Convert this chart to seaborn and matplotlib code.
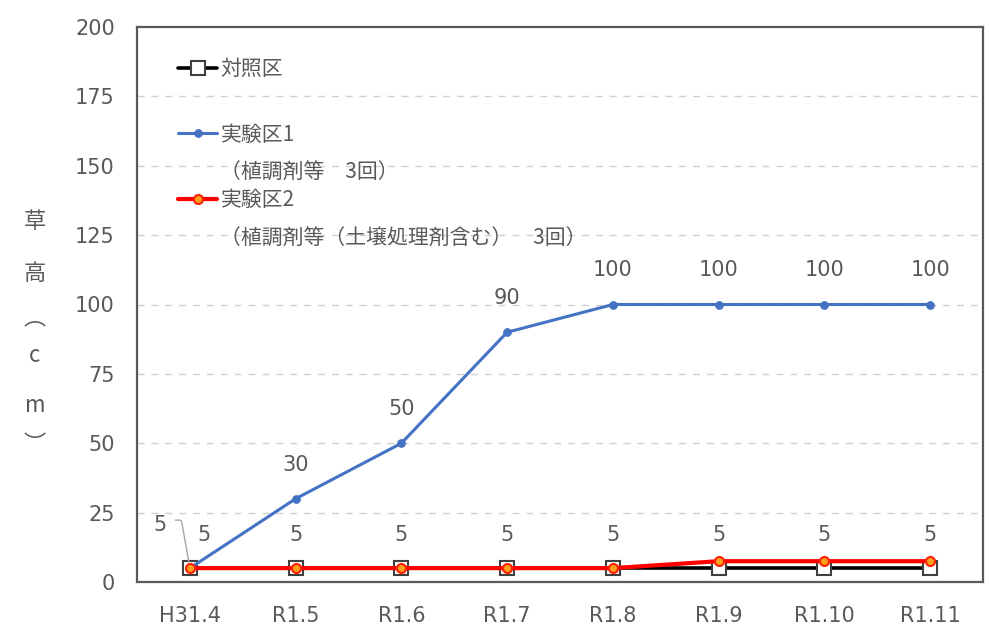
import numpy as np
import pandas as pd
import matplotlib
matplotlib.use("Agg")
import matplotlib.pyplot as plt
import seaborn as sns

# Survey months and plant heights (cm)
months = ["H31.4", "R1.5", "R1.6", "R1.7", "R1.8", "R1.9", "R1.10", "R1.11"]
control = [5, 5, 5, 5, 5, 5, 5, 5]
plot1 = [5, 30, 50, 90, 100, 100, 100, 100]
plot2 = [5, 5, 5, 5, 5, 7.5, 7.5, 7.5]
y_ticks = [0, 25, 50, 75, 100, 125, 150, 175, 200]

series_names = ["対照区", "実験区1", "実験区2"]
series_notes = ["（植調剤等　3回）", "（植調剤等（土壌処理剤含む）　3回）"]
y_label_chars = ["草", "高", "︵", "c", "m", "︶"]

sns.set_theme(style="white")
plt.rcParams["font.family"] = ["DejaVu Sans", "Noto Sans CJK JP"]
CJK = ["Noto Sans CJK JP", "DejaVu Sans"]
GRAY = "#595959"
W, H = 989, 632

df = pd.DataFrame({
    "pos": np.arange(len(months)),
    "month": months,
    "control": control,
    "plot1": plot1,
    "plot2": plot2,
})

fig = plt.figure(figsize=(W / 100, H / 100), dpi=100)
ax = fig.add_axes([137 / W, 1 - 582 / H, (983 - 137) / W, (582 - 27) / H])

sns.lineplot(data=df, x="pos", y="control", ax=ax, color="black", lw=2.6,
             marker="s", markersize=10.5, markerfacecolor="white",
             markeredgecolor="#404040", markeredgewidth=1.5,
             label=series_names[0], legend=False, zorder=3)
sns.lineplot(data=df, x="pos", y="plot1", ax=ax, color="#4472C4", lw=2.2,
             marker="o", markersize=5.5, markerfacecolor="#4472C4",
             markeredgecolor="#4472C4", label=series_names[1], legend=False,
             zorder=4)
sns.lineplot(data=df, x="pos", y="plot2", ax=ax, color="#FF0000", lw=3.0,
             marker="o", markersize=6.5, markerfacecolor="#FFA020",
             markeredgecolor="#FF2000", markeredgewidth=1.5,
             label=series_names[2], legend=False, zorder=5)

ax.set_xlim(-0.5, len(months) - 0.5)
ax.set_ylim(0, 200)
ax.set_xticks(df["pos"])
ax.set_xticklabels(months)
ax.set_yticks(y_ticks)
ax.set_xlabel("")
ax.set_ylabel("")
ax.tick_params(axis="both", length=0, labelsize=15, labelcolor=GRAY)
ax.tick_params(axis="y", pad=16)
ax.tick_params(axis="x", pad=17)

for y in y_ticks[1:-1]:
    ax.axhline(y, color="#d0d0d0", lw=1.0, ls=(0, (5, 5)), zorder=1)
for s in ax.spines.values():
    s.set_visible(True)
    s.set_color(GRAY)
    s.set_linewidth(1.6)

# Value labels (the first control label sits right of the rising blue line)
for i, v in enumerate(control):
    dx = 14 if i == 0 else 0
    ax.annotate(f"{v:g}", (i, v), xytext=(dx, 33), textcoords="offset pixels",
                ha="center", va="center", fontsize=15, color=GRAY)
for i, v in enumerate(plot1):
    if i == 0:
        ax.annotate(f"{v:g}", (i, v), xytext=(-30, 43), textcoords="offset pixels",
                    ha="center", va="center", fontsize=15, color=GRAY,
                    arrowprops=dict(arrowstyle="-", color="#a6a6a6", lw=1.0,
                                    shrinkA=4, shrinkB=4, relpos=(1.0, 0.75),
                                    connectionstyle="angle,angleA=0,angleB=100,rad=2"))
    else:
        ax.annotate(f"{v:g}", (i, v), xytext=(0, 34), textcoords="offset pixels",
                    ha="center", va="center", fontsize=15, color=GRAY)

# Legend with notes under the treated plots
leg = ax.legend(loc="upper left", bbox_to_anchor=(0.026, 0.978), frameon=False,
                handlelength=1.9, handletextpad=0.15, labelspacing=2.1,
                prop={"family": CJK, "size": 15})
for t in leg.get_texts():
    t.set_color(GRAY)

fig.canvas.draw()
for t, note in zip(leg.get_texts()[1:], series_notes):
    bb = t.get_window_extent()
    fig.text(bb.x0 / W, ((bb.y0 + bb.y1) / 2 - 38) / H, note, ha="left",
             va="center", fontsize=15, color=GRAY, family=CJK)

# Vertical axis title, one character per row
for ch, yp in zip(y_label_chars, [221, 273, 318, 355, 405, 444]):
    fig.text(35 / W, 1 - yp / H, ch, ha="center", va="center",
             fontsize=16, color=GRAY, family=CJK)

fig.savefig("out.png", dpi=100)
